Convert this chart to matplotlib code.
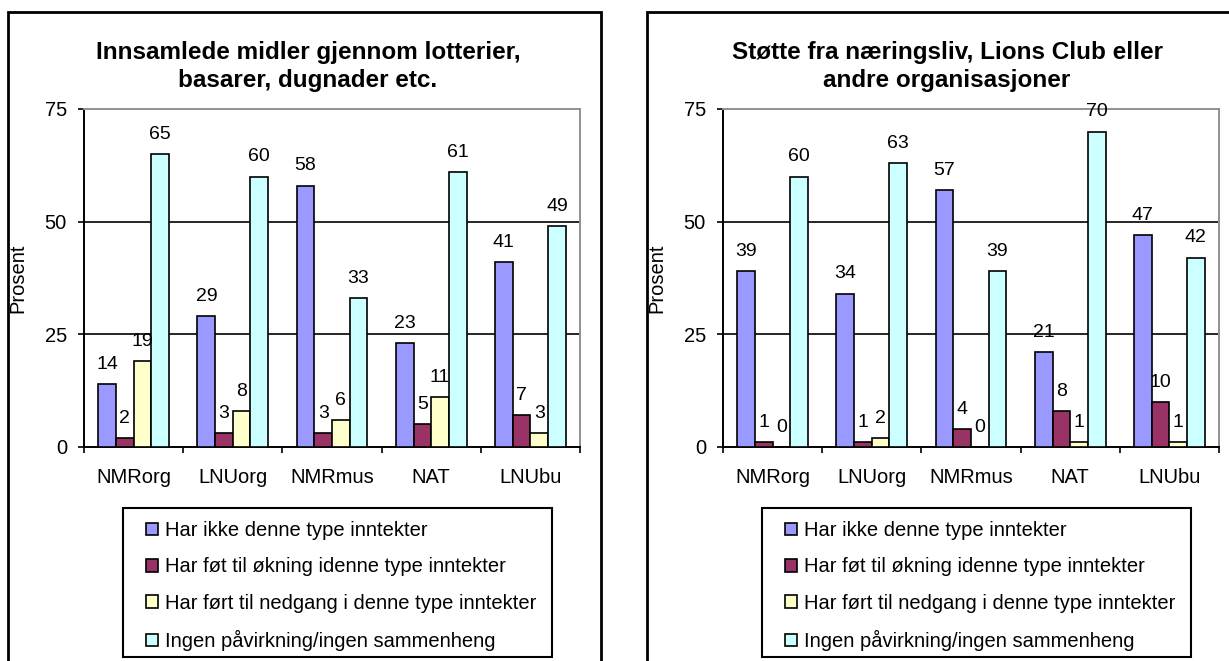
import matplotlib
matplotlib.use("Agg")
import matplotlib.pyplot as plt
import numpy as np
from matplotlib.patches import Rectangle

plt.rcParams['font.family'] = ['Liberation Sans', 'DejaVu Sans']

categories = ["NMRorg", "LNUorg", "NMRmus", "NAT", "LNUbu"]
series_names = [
    "Har ikke denne type inntekter",
    "Har føt til økning idenne type inntekter",
    "Har ført til nedgang i denne type inntekter",
    "Ingen påvirkning/ingen sammenheng",
]
colors = ["#9999FF", "#993366", "#FFFFCC", "#CCFFFF"]

title1 = "Innsamlede midler gjennom lotterier,\nbasarer, dugnader etc."
p1_har_ikke = [14, 29, 58, 23, 41]
p1_okning = [2, 3, 3, 5, 7]
p1_nedgang = [19, 8, 6, 11, 3]
p1_ingen = [65, 60, 33, 61, 49]

title2 = "Støtte fra næringsliv, Lions Club eller\nandre organisasjoner"
p2_har_ikke = [39, 34, 57, 21, 47]
p2_okning = [1, 1, 4, 8, 10]
p2_nedgang = [0, 2, 0, 1, 1]
p2_ingen = [60, 63, 39, 70, 42]

yticks = [0, 25, 50, 75]
ylabel = "Prosent"

W, H = 1229, 661
FS = 14.5
fig = plt.figure(figsize=(W / 100, H / 100), dpi=100)
fig.patch.set_facecolor("white")


def fx(px):
    return px / W


def fy(py):
    return 1 - py / H


def panel(x0, box_l, title, series):
    x1 = x0 + 496
    box_r = box_l + 593
    ax = fig.add_axes([fx(x0), fy(447), fx(x1 - x0), (447 - 109) / H])
    fig.patches.append(Rectangle((fx(box_l), -0.05), fx(box_r - box_l), fy(12) + 0.05,
                                 transform=fig.transFigure, fill=False,
                                 edgecolor="black", linewidth=2.0, zorder=0))
    n = len(series)
    bw = 0.178
    xs = np.arange(len(categories)) + 0.5
    handles = []
    for i, (vals, col, name) in enumerate(zip(series, colors, series_names)):
        off = (i - (n - 1) / 2) * bw
        bars = ax.bar(xs + off, vals, bw, color=col, edgecolor="black",
                      linewidth=1.2, label=name, zorder=3)
        handles.append(bars)
        for xv, v in zip(xs + off, vals):
            ax.annotate(f"{v:g}", (xv, v), xytext=(0, 11), textcoords="offset points",
                        ha="center", va="baseline", fontsize=14, annotation_clip=False,
                        zorder=5)
    ax.set_xlim(0, len(categories))
    ax.set_ylim(0, 75)
    ax.set_yticks(yticks)
    ax.set_yticklabels([str(t) for t in yticks], fontsize=FS)
    ax.tick_params(axis="y", length=4.3, width=1.2, pad=8, direction="out")
    ax.set_xticks(np.arange(len(categories) + 1))
    ax.set_xticklabels([])
    ax.tick_params(axis="x", which="major", length=4.3, width=1.2, direction="out")
    ax.set_xticks(xs, minor=True)
    ax.set_xticklabels(categories, minor=True, fontsize=FS)
    ax.tick_params(axis="x", which="minor", length=0, pad=15)
    for yv in [25, 50]:
        ax.axhline(yv, color="black", linewidth=1.2, zorder=1)
    for s in ["left", "bottom"]:
        ax.spines[s].set_color("black")
        ax.spines[s].set_linewidth(1.4)
    for s in ["top", "right"]:
        ax.spines[s].set_color("#909090")
        ax.spines[s].set_linewidth(1.4)
    ax.set_ylabel(ylabel, fontsize=FS)
    ax.yaxis.set_label_coords(-57 / 496, 0.5)
    fig.text(fx(box_l + 300), fy(66.5), title, ha="center", va="center",
             fontsize=17.5, fontweight="bold", linespacing=1.3)
    # legend box
    leg_l = x0 + 39
    leg_r = x0 + 468
    fig.patches.append(Rectangle((fx(leg_l), fy(657)), fx(leg_r - leg_l), fy(508) - fy(657),
                                 transform=fig.transFigure, fill=False,
                                 edgecolor="black", linewidth=1.5, zorder=1))
    leg = fig.legend(handles=handles, labels=series_names,
                     loc="upper left", bbox_to_anchor=(fx(leg_l + 23), fy(521)),
                     fontsize=FS, frameon=False, handlelength=0.6, handleheight=0.6,
                     handletextpad=0.32, labelspacing=0.86, borderpad=0,
                     borderaxespad=0)
    for h in leg.legend_handles:
        h.set_edgecolor("black")
        h.set_linewidth(1.2)
    return ax


panel(84, 8, title1, [p1_har_ikke, p1_okning, p1_nedgang, p1_ingen])
panel(723, 647, title2, [p2_har_ikke, p2_okning, p2_nedgang, p2_ingen])

fig.savefig("out.png", dpi=100, facecolor="white")
